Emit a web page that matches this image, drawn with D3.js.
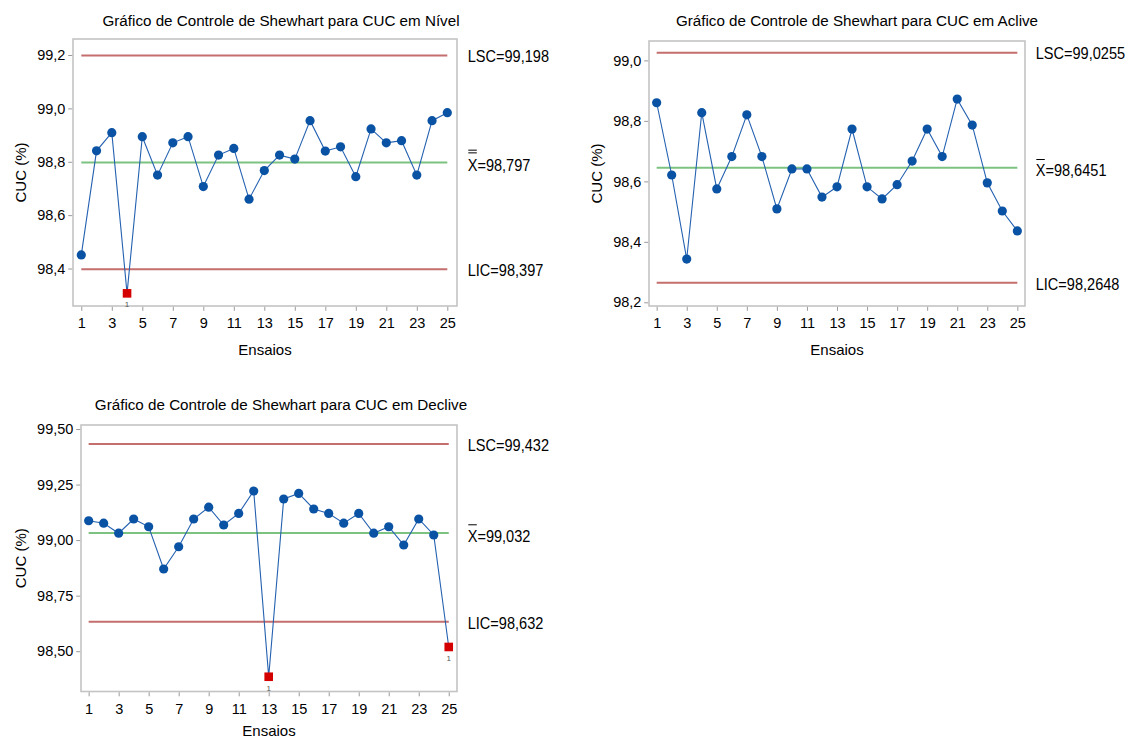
<!DOCTYPE html>
<html>
<head>
<meta charset="utf-8">
<script src="https://cdn.jsdelivr.net/npm/d3@7"></script>
<style>
  body { margin: 0; background: #fff; }
  svg { display: block; font-family: Arial, "Liberation Sans", sans-serif; }
</style>
</head>
<body>
<svg id="chart" width="1130" height="740"></svg>
<script>
// Ensaios (x axis) and the tick labels shown on it
const ensaios = [1, 2, 3, 4, 5, 6, 7, 8, 9, 10, 11, 12, 13, 14, 15, 16, 17, 18, 19, 20, 21, 22, 23, 24, 25];
const xTicks = [1, 3, 5, 7, 9, 11, 13, 15, 17, 19, 21, 23, 25];

// CUC (%) per ensaio
const cucNivel = [98.451, 98.841, 98.909, 98.307, 98.894, 98.750, 98.871, 98.894, 98.707, 98.825,
                  98.850, 98.660, 98.767, 98.825, 98.810, 98.954, 98.840, 98.856, 98.744, 98.923,
                  98.871, 98.879, 98.750, 98.954, 98.984];
const cucAclive = [98.860, 98.621, 98.343, 98.827, 98.575, 98.682, 98.820, 98.682, 98.509, 98.641,
                   98.641, 98.548, 98.582, 98.773, 98.582, 98.542, 98.589, 98.667, 98.773, 98.682,
                   98.872, 98.786, 98.595, 98.502, 98.436];
const cucDeclive = [99.087, 99.076, 99.031, 99.095, 99.060, 98.870, 98.970, 99.095, 99.148, 99.068,
                    99.120, 99.221, 98.385, 99.185, 99.210, 99.140, 99.120, 99.076, 99.120, 99.031,
                    99.060, 98.978, 99.095, 99.023, 98.519];

// Control limits: [LIC, média, LSC]
const limitesNivel = [98.397, 98.797, 99.198];
const limitesAclive = [98.2648, 98.6451, 99.0255];
const limitesDeclive = [98.632, 99.032, 99.432];

// Y tick values
const yTicksNivel = [98.4, 98.6, 98.8, 99.0, 99.2];
const yTicksAclive = [98.2, 98.4, 98.6, 98.8, 99.0];
const yTicksDeclive = [98.50, 98.75, 99.00, 99.25, 99.50];

const titulos = [
  "Gráfico de Controle de Shewhart para CUC em Nível",
  "Gráfico de Controle de Shewhart para CUC em Aclive",
  "Gráfico de Controle de Shewhart para CUC em Declive"
];
const rotuloX = "Ensaios";
const rotuloY = "CUC (%)";

const ptBR = d3.formatLocale({ decimal: ",", thousands: ".", grouping: [3], currency: ["R$", ""] });

const panels = [
  { title: titulos[0], values: cucNivel, limits: limitesNivel, limDec: 3, yTicks: yTicksNivel, tickDec: 1, bars: 2,
    frame: { left: 73, right: 457, top: 39, bottom: 306 },
    xDomain: [0.456, 25.636], yDomain: [98.2596, 99.26], titleX: 281, titleY: 26, yTitleX: 20, xTitleY: 355 },
  { title: titulos[1], values: cucAclive, limits: limitesAclive, limDec: 4, yTicks: yTicksAclive, tickDec: 1, bars: 1,
    frame: { left: 649, right: 1025, top: 41, bottom: 306 },
    xDomain: [0.49, 25.51], yDomain: [98.1878, 99.0642], titleX: 857, titleY: 26, yTitleX: 596, xTitleY: 355 },
  { title: titulos[2], values: cucDeclive, limits: limitesDeclive, limDec: 3, yTicks: yTicksDeclive, tickDec: 2, bars: 1,
    frame: { left: 81, right: 457, top: 425, bottom: 691.5 },
    xDomain: [0.49, 25.55], yDomain: [98.3186, 99.518], titleX: 281, titleY: 409.5, yTitleX: 20, xTitleY: 735.5 }
];

const COLORS = {
  frame: "#c4c4c4",
  tick: "#9a9a9a",
  limit: "#c56e6e",
  mean: "#7cc280",
  line: "#2461b0",
  point: "#0a52a3",
  out: "#d40000"
};

const svg = d3.select("#chart");

panels.forEach(p => {
  const f = p.frame;
  const g = svg.append("g");
  const x = d3.scaleLinear().domain(p.xDomain).range([f.left, f.right]);
  const y = d3.scaleLinear().domain(p.yDomain).range([f.bottom, f.top]);
  const [lic, media, lsc] = p.limits;

  // frame
  g.append("rect")
    .attr("x", f.left).attr("y", f.top)
    .attr("width", f.right - f.left).attr("height", f.bottom - f.top)
    .attr("fill", "none").attr("stroke", COLORS.frame).attr("stroke-width", 1.6);

  // axes
  const xAxis = g.append("g")
    .attr("transform", `translate(0,${f.bottom + 0.8})`)
    .call(d3.axisBottom(x).tickValues(xTicks).tickFormat(d3.format("d")).tickSize(4).tickSizeOuter(0).tickPadding(7.2));
  const yAxis = g.append("g")
    .attr("transform", `translate(${f.left - 0.8},0)`)
    .call(d3.axisLeft(y).tickValues(p.yTicks).tickFormat(ptBR.format(`.${p.tickDec}f`)).tickSize(4).tickSizeOuter(0).tickPadding(2.8));
  [xAxis, yAxis].forEach(a => {
    a.select(".domain").remove();
    a.selectAll(".tick line").attr("stroke", COLORS.tick).attr("stroke-width", 1);
    a.selectAll(".tick text").attr("fill", "#000").style("font-size", "14.5px")
      .style("font-family", "Arial, 'Liberation Sans', sans-serif");
  });

  // control limit lines and centre line
  const xs = x(ensaios[0]), xe = x(ensaios[ensaios.length - 1]);
  [[lsc, COLORS.limit], [lic, COLORS.limit], [media, COLORS.mean]].forEach(([v, c]) => {
    g.append("line")
      .attr("x1", xs).attr("x2", xe).attr("y1", y(v)).attr("y2", y(v))
      .attr("stroke", c).attr("stroke-width", 2);
  });

  // data line
  const pts = ensaios.map((e, i) => ({ e, v: p.values[i] }));
  g.append("path")
    .datum(pts)
    .attr("fill", "none").attr("stroke", COLORS.line).attr("stroke-width", 1.1)
    .attr("d", d3.line().x(d => x(d.e)).y(d => y(d.v)));

  const inCtrl = pts.filter(d => d.v >= lic && d.v <= lsc);
  const outCtrl = pts.filter(d => d.v < lic || d.v > lsc);

  g.selectAll("circle.pt").data(inCtrl).enter().append("circle")
    .attr("cx", d => x(d.e)).attr("cy", d => y(d.v)).attr("r", 4.6)
    .attr("fill", COLORS.point);

  const sq = 8.6;
  g.selectAll("rect.out").data(outCtrl).enter().append("rect")
    .attr("x", d => x(d.e) - sq / 2).attr("y", d => y(d.v) - sq / 2)
    .attr("width", sq).attr("height", sq).attr("fill", COLORS.out);
  g.selectAll("text.flag").data(outCtrl).enter().append("text")
    .attr("x", d => x(d.e)).attr("y", d => y(d.v) + 14)
    .attr("text-anchor", "middle").attr("fill", "#555").style("font-size", "8px")
    .text("1");

  // limit labels at the right
  const fmtLim = ptBR.format(`.${p.limDec}f`);
  const lx = f.right + 10.7;
  const sx = 0.91;
  const lab = (txt, base) => g.append("text")
    .attr("transform", `translate(${lx},${base}) scale(${sx},1)`)
    .attr("fill", "#000").style("font-size", "16px").text(txt);
  lab("LSC=" + fmtLim(lsc), y(lsc) + 6.5);
  lab("LIC=" + fmtLim(lic), y(lic) + 7);
  const meanBase = y(media) + 8.6;
  const mt = lab("X=" + fmtLim(media), meanBase);
  const xw = mt.node().getSubStringLength(0, 1) * sx;
  const barYs = p.bars === 2 ? [meanBase - 21, meanBase - 18.3] : [meanBase - 16.8];
  barYs.forEach(by => {
    g.append("line")
      .attr("x1", lx + 0.6).attr("x2", lx + xw - 0.6)
      .attr("y1", by).attr("y2", by)
      .attr("stroke", "#000").attr("stroke-width", 1);
  });

  // titles
  g.append("text")
    .attr("x", p.titleX).attr("y", p.titleY)
    .attr("text-anchor", "middle").attr("fill", "#000").style("font-size", "15.2px")
    .text(p.title);
  g.append("text")
    .attr("x", (f.left + f.right) / 2).attr("y", p.xTitleY)
    .attr("text-anchor", "middle").attr("fill", "#000").style("font-size", "15px")
    .text(rotuloX);
  g.append("text")
    .attr("transform", `translate(${p.yTitleX},${(f.top + f.bottom) / 2}) rotate(-90)`)
    .attr("text-anchor", "middle").attr("dominant-baseline", "central")
    .attr("fill", "#000").style("font-size", "15px")
    .text(rotuloY);
});
</script>
</body>
</html>
